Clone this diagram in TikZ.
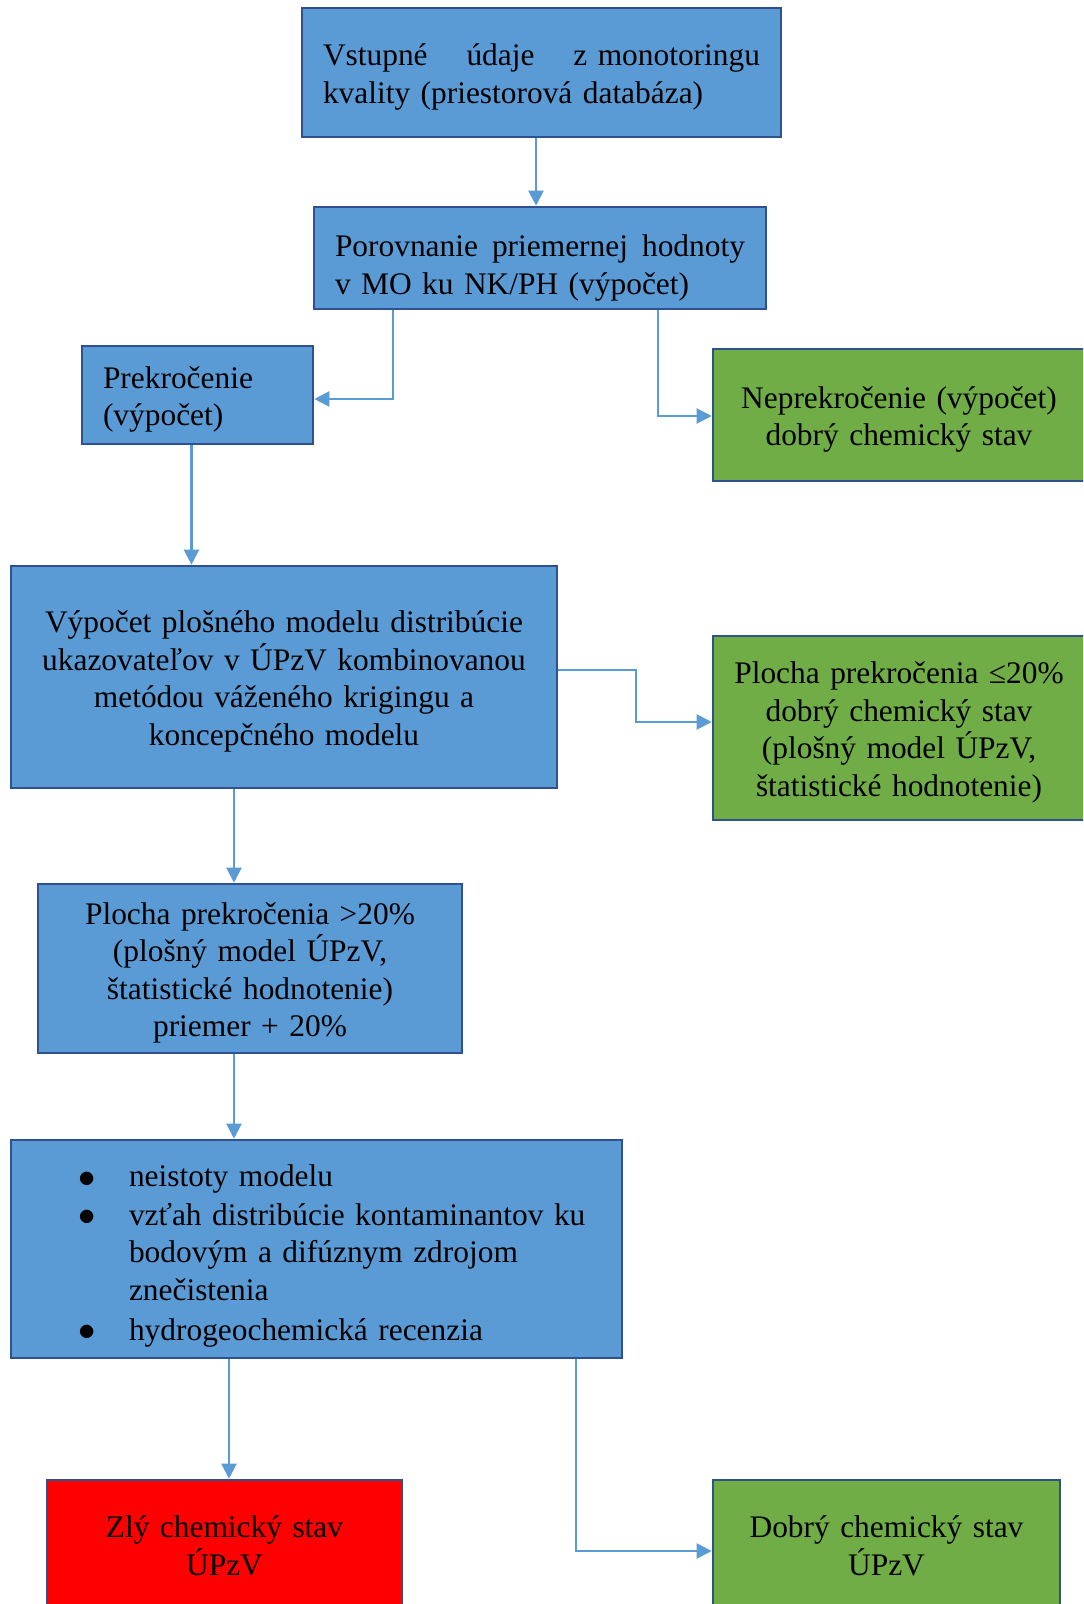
\documentclass[tikz,border=0pt]{standalone}
\usepackage{fontspec}
\usepackage{graphicx}
\setmainfont{Liberation Serif}
\usetikzlibrary{positioning,arrows.meta,calc}
\definecolor{boxblue}{HTML}{5B9BD5}
\definecolor{boxline}{HTML}{2F528F}
\definecolor{boxgreen}{HTML}{70AD47}
\definecolor{boxred}{HTML}{FF0000}
\definecolor{arrblue}{HTML}{5B9BD5}
\newcommand{\bul}{\hspace*{-4.7pt}\raisebox{-0.4pt}{\scalebox{1.2}{$\bullet$}}}

\begin{document}
\begin{tikzpicture}[x=0.5pt,y=-0.5pt,>={Triangle[width=7.5pt,length=7.5pt]},every node/.style={font=\fontsize{15.7}{18.75}\selectfont}]
\tikzstyle{st}=[draw=boxline,line width=1.3pt,fill=boxblue,inner sep=0pt,align=center,
  execute at begin node={\rule{0pt}{18pt}},execute at end node={\rule[-6pt]{0pt}{6pt}}]
\tikzstyle{ok}=[st,fill=boxgreen]
\tikzstyle{con}=[->,arrblue,line width=1.1pt]
\path[clip,use as bounding box] (0,0) rectangle (1083,1604);
\node[st,minimum width=239.5pt,minimum height=64.5pt,text width=218.5pt,align=left] (input) at (541.5,72.5) {Vstupné\hfill údaje\hfill z monotoringu\\kvality (priestorová databáza)};
\node[st,minimum width=226pt,minimum height=51pt,text width=205pt,align=left,execute at begin node={\rule{0pt}{23.6pt}}] (cmp) at (540,258) {Porovnanie\hfill priemernej\hfill hodnoty\\v MO ku NK/PH (výpočet)};
\node[st,minimum width=115.5pt,minimum height=49pt,text width=94.5pt,align=left] (exc) at (197.5,395) {Prekročenie\\(výpočet)};
\node[ok,minimum width=186pt,minimum height=66pt,text width=180pt] (ok1) at (899,415) {Neprekročenie (výpočet)\\dobrý chemický stav};
\node[st,minimum width=273pt,minimum height=111pt,text width=265pt] (model) at (284,677) {Výpočet plošného modelu distribúcie\\ukazovateľov v ÚPzV kombinovanou\\metódou váženého krigingu a\\koncepčného modelu};
\node[ok,minimum width=186pt,minimum height=92pt,text width=180pt] (ok2) at (899,728) {Plocha prekročenia ≤20\%\\dobrý chemický stav\\(plošný model ÚPzV,\\štatistické hodnotenie)};
\node[st,minimum width=212pt,minimum height=84.5pt,text width=205pt] (over) at (250,968.5) {Plocha prekročenia >20\%\\(plošný model ÚPzV,\\štatistické hodnotenie)\\priemer + 20\%};
\node[st,minimum width=305.5pt,minimum height=109pt,text width=228.5pt,align=left,execute at begin node={\rule{0pt}{19.8pt}}] (rev) at (316.5,1249) {\makebox[\linewidth][l]{\begin{tabular}[t]{@{}p{20.5pt}@{}l@{}}
\bul & neistoty modelu\\[0.7pt]
\bul & vzťah distribúcie kontaminantov ku\\
 & bodovým a difúznym zdrojom\\
 & znečistenia\\[1.2pt]
\bul & hydrogeochemická recenzia
\end{tabular}}};
\node[st,fill=boxred,minimum width=177.5pt,minimum height=64.5pt,text width=170pt] (bad) at (224.5,1544.5) {Zlý chemický stav\\ÚPzV};
\node[ok,minimum width=173.5pt,minimum height=64.5pt,text width=165pt] (good) at (886.5,1544.5) {Dobrý chemický stav\\ÚPzV};

% connector ends
\coordinate (input-out) at ($(input.south)+(-5.5,0)$);
\coordinate (exc-in) at ($(exc.east)+(0,4)$);
\coordinate (ok1-in) at ($(ok1.west)+(0,1)$);
\coordinate (exc-out) at ($(exc.south)+(-6,0)$);
\coordinate (model-out) at ($(model.east)+(0,-7)$);
\coordinate (ok2-in) at ($(ok2.west)+(0,-6)$);
\coordinate (model-down) at ($(model.south)+(-50,0)$);
\coordinate (over-out) at ($(over.south)+(-16,0)$);
\coordinate (bad-in) at ($(bad.north)+(4.5,0)$);
\coordinate (good-in) at ($(good.west)+(0,6.5)$);

\draw[con] (input-out) -- (input-out |- cmp.north);
\draw[con] ($(cmp.south)+(-147,0)$) |- (exc-in);
\draw[con] ($(cmp.south)+(118,0)$) |- (ok1-in);
\draw[con] (exc-out) -- (exc-out |- model.north);
\draw[con] (model-out) -- ++(78,0) |- (ok2-in);
\draw[con] (model-down) -- (model-down |- over.north);
\draw[con] (over-out) -- (over-out |- rev.north);
\draw[con] (bad-in |- rev.south) -- (bad-in);
\draw[con] ($(rev.south)+(259.5,0)$) |- (good-in);
\end{tikzpicture}
\end{document}
